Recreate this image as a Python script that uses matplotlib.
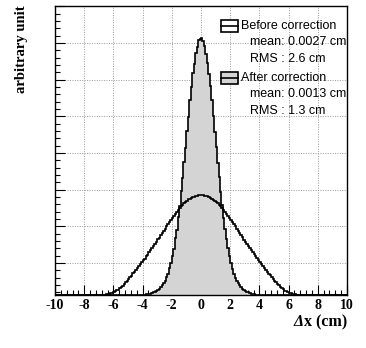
import numpy as np
import matplotlib
matplotlib.use("Agg")
import matplotlib.pyplot as plt
from matplotlib.patches import Rectangle
from matplotlib.lines import Line2D
from matplotlib.ticker import FixedLocator, MultipleLocator

plt.rcParams['axes.unicode_minus'] = False

# histogram binning, 0.1 cm bins from -10 to 10
edges = np.linspace(-10, 10, 201)

# After correction, bins centred -3.95 .. -0.05 and 0.05 .. 3.95
after_left = [0.1, 0.3, 0.6, 0.8, 1.2, 1.5, 2.1, 2.7, 3.4, 4.1,
              5.3, 6.4, 8.2, 9.8, 12.3, 14.3, 17.8, 21.2, 26.9, 31.6,
              39.4, 46.5, 56.6, 65.5, 77.8, 89.4, 103.6, 117.2, 132.8, 147.1,
              163.6, 178.4, 195.5, 208.2, 221.7, 231.4, 241.6, 248.2, 254.6, 256.1]
after_right = [257, 254, 249, 241, 232, 221, 209, 195, 179, 163,
               148, 132, 118, 103, 90, 77, 66, 56, 47, 39,
               32, 26.5, 21.5, 17.5, 14.5, 12, 10, 8, 6.5, 5.2,
               4.2, 3.3, 2.6, 2, 1.5, 1.1, 0.8, 0.5, 0.3, 0.1]

# Before correction, bins centred -6.95 .. -0.05 and 0.05 .. 6.95
before_left = [0, 0.1, 0.2, 0.3, 0.4, 0.7, 0.9, 1.3, 1.7, 2.2,
               2.9, 3.7, 4.6, 5.5, 6.9, 8.3, 9.5, 11.2, 12.8, 14.3,
               16.2, 17.9, 19.5, 21.6, 23.3, 25.4, 27.2, 28.8, 31.1, 32.7,
               34.9, 36.4, 38.8, 40.5, 42.9, 44.6, 47.1, 48.8, 51.3, 53.1,
               55.7, 57.5, 60.3, 62.0, 64.5, 66.3, 68.9, 70.6, 73.2, 74.9,
               77.4, 79.1, 81.5, 83.0, 85.4, 86.8, 88.9, 90.0, 91.9, 93.2,
               94.5, 95.6, 96.5, 97.4, 98.2, 98.4, 99.4, 99.2, 100.3, 99.6]
before_right = [100, 99.8, 99.4, 99, 98.6, 98, 97.2, 96.4, 95.4, 94.3,
                93, 91.7, 90.2, 88.7, 87, 85.2, 83.3, 81.3, 79.3, 77.2,
                75.1, 73, 70.8, 68.7, 66.5, 64.3, 62.2, 60, 57.7, 55.5,
                53.3, 51.1, 49, 46.9, 44.8, 42.7, 40.6, 38.6, 36.6, 34.7,
                32.8, 30.9, 29, 27.1, 25.3, 23.4, 21.5, 19.6, 17.8, 16.1,
                14.4, 12.7, 11.1, 9.6, 8.2, 6.8, 5.6, 4.5, 3.6, 2.8,
                2.1, 1.6, 1.2, 0.9, 0.6, 0.4, 0.3, 0.2, 0.1, 0]

labels = ["Before correction", "After correction"]
stats = [("mean: 0.0027 cm", "RMS : 2.6 cm"), ("mean: 0.0013 cm", "RMS : 1.3 cm")]


def fill_bins(left, right):
    h = np.zeros(200)
    h[100 - len(left):100] = left
    h[100:100 + len(right)] = right
    return h


after = fill_bins(after_left, after_right)
before = fill_bins(before_left, before_right)

W, H = 366, 348
fig = plt.figure(figsize=(W / 100, H / 100), dpi=100)
ax = fig.add_axes([55 / W, (H - 295) / H, (347 - 55) / W, (295 - 6) / H])

gray = "#d4d4d4"
ax.stairs(after, edges, fill=True, color=gray, zorder=2)
ax.stairs(after, edges, color="black", lw=1.2, zorder=3)
ax.stairs(before, edges, color="black", lw=1.2, zorder=4)

ax.set_xlim(-10, 10)
ax.set_ylim(0, 289)
step = 36.67
ax.yaxis.set_major_locator(FixedLocator(np.arange(32, 289, step)))
ax.yaxis.set_minor_locator(FixedLocator(np.arange(32 - step, 289, step / 5)))
ax.xaxis.set_major_locator(MultipleLocator(2))
ax.xaxis.set_minor_locator(MultipleLocator(0.4))
ax.set_yticklabels([])
ax.tick_params(which="both", direction="in", top=False, right=False, width=0.8)
ax.tick_params(which="major", length=7)
ax.tick_params(which="minor", length=3.3)
ax.tick_params(axis="x", pad=3)
for lab in ax.get_xticklabels():
    lab.set_fontfamily("Liberation Serif")
    lab.set_fontweight("bold")
    lab.set_fontsize(10)
ax.grid(True, which="major", ls=(0, (1, 1.5)), color="#999999", lw=0.7)
ax.set_axisbelow(True)
for s in ax.spines.values():
    s.set_linewidth(1.0)

# x title: italic Delta glued to the left of "x (cm)"
t = fig.text(347 / W, 1 - 322 / H, "x (cm)", ha="right", va="center",
             fontsize=11.5, fontfamily="Liberation Serif", fontweight="bold")
ax.annotate("Δ", xy=(0, 0.5), xycoords=t, ha="right", va="center",
            fontsize=11.5, fontfamily="Liberation Serif", fontweight="bold", fontstyle="italic")
fig.text(22 / W, 1 - 5 / H, "arbitrary unit", rotation=90, ha="center", va="top",
         fontsize=10.5, fontfamily="Liberation Serif", fontweight="bold")

# legend drawn by hand (ROOT style, no frame)
fills = ["white", gray]
box_y = [26, 78]
for i in range(2):
    yc = 1 - box_y[i] / H
    x0 = 221 / W
    bw, bh = 17 / W, 12 / H
    fig.patches.append(Rectangle((x0, yc - bh / 2), bw, bh, transform=fig.transFigure,
                                 facecolor=fills[i], edgecolor="black", lw=1.2, zorder=5))
    fig.lines.append(Line2D([x0, x0 + bw], [yc, yc], transform=fig.transFigure,
                            color="black", lw=1.2, zorder=6))
    fig.text(241 / W, yc, labels[i], ha="left", va="center", fontsize=9,
             fontfamily="Liberation Sans")
    fig.text(250 / W, 1 - (box_y[i] + 16) / H, stats[i][0], ha="left", va="center",
             fontsize=9, fontfamily="Liberation Sans")
    fig.text(250 / W, 1 - (box_y[i] + 33) / H, stats[i][1], ha="left", va="center",
             fontsize=9, fontfamily="Liberation Sans")

fig.savefig("out.png", dpi=100)
